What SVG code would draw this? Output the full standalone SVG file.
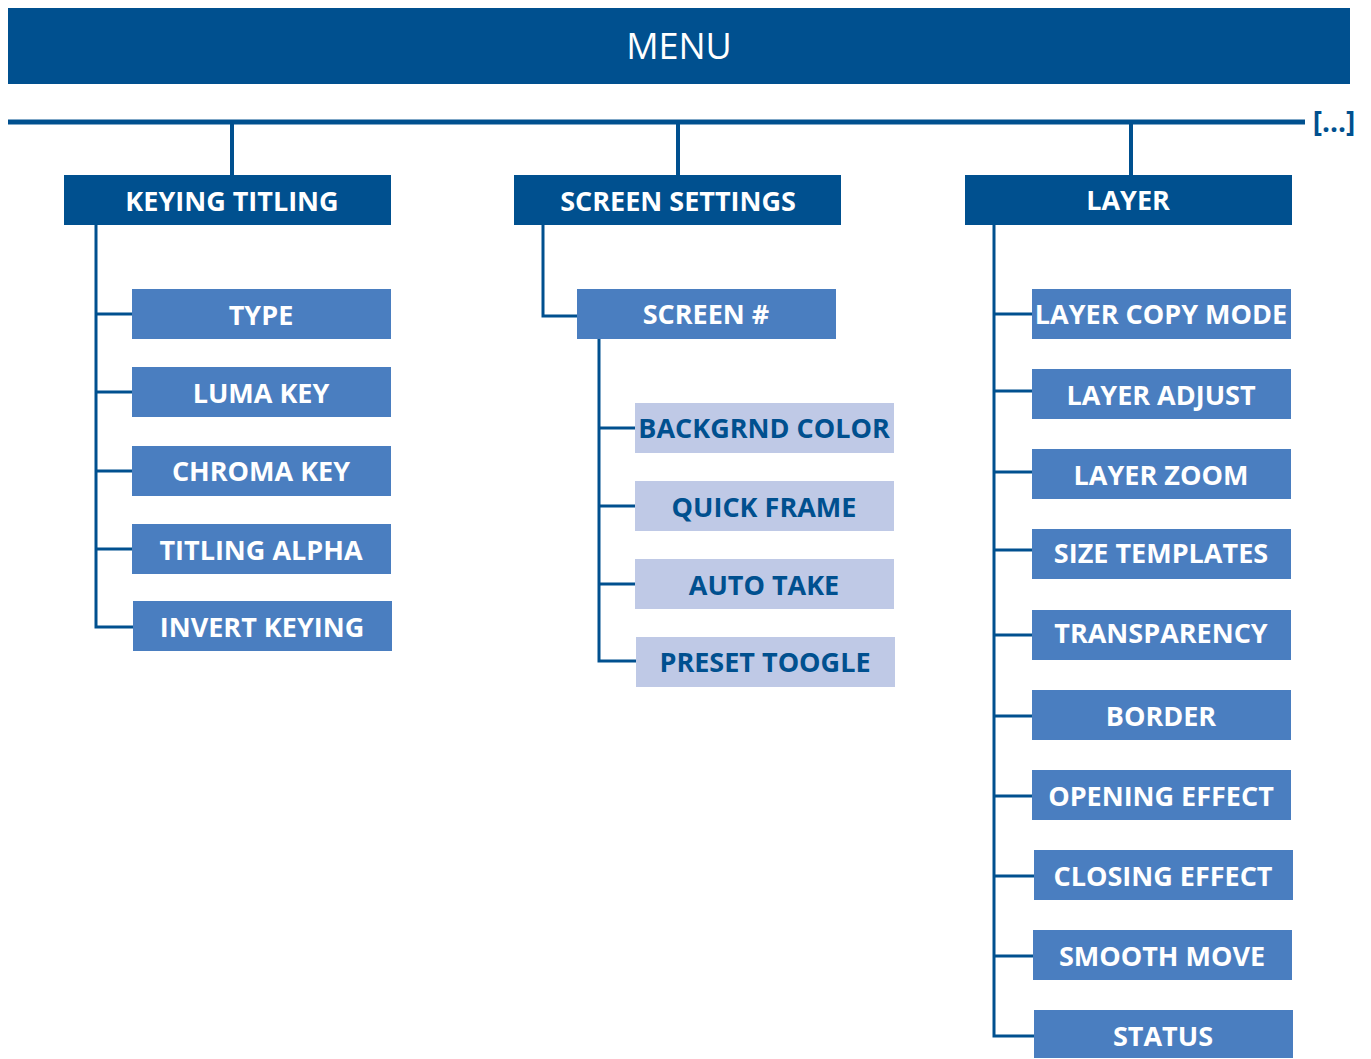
<svg xmlns="http://www.w3.org/2000/svg" width="1371" height="1059" viewBox="0 0 1371 1059">
<style>
.dk{fill:#00508F}
.md{fill:#4A7EC0}
.lt{fill:#BFC9E6}
text{font-family:"Open Sans","Liberation Sans",sans-serif;font-weight:bold;font-size:27px;text-anchor:middle;dominant-baseline:central}
.w{fill:#FFFFFF}
.b{fill:#00508F}
.con{fill:none;stroke:#00508F;stroke-width:3}
</style>
<rect width="1371" height="1059" fill="#FFFFFF"/>
<g id="menu">
<rect class="dk" x="8" y="8" width="1342" height="76"/>
<text class="w" x="679" y="45" style="font-weight:normal;font-size:36px">MENU</text>
</g>
<g id="connectors">
<line x1="8" y1="122" x2="1305" y2="122" stroke="#00508F" stroke-width="5"/>
<line class="con" x1="232" y1="122" x2="232" y2="176" style="stroke-width:4"/>
<line class="con" x1="678" y1="122" x2="678" y2="176" style="stroke-width:4"/>
<line class="con" x1="1131" y1="122" x2="1131" y2="176" style="stroke-width:4"/>
<polyline class="con" points="96,225 96,627 133,627"/>
<line class="con" x1="96" y1="314" x2="132" y2="314"/>
<line class="con" x1="96" y1="392" x2="132" y2="392"/>
<line class="con" x1="96" y1="471" x2="132" y2="471"/>
<line class="con" x1="96" y1="549" x2="132" y2="549"/>
<polyline class="con" points="543,225 543,316 577,316"/>
<polyline class="con" points="599,339 599,661 636,661"/>
<line class="con" x1="599" y1="428" x2="635" y2="428"/>
<line class="con" x1="599" y1="506" x2="635" y2="506"/>
<line class="con" x1="599" y1="584" x2="635" y2="584"/>
<polyline class="con" points="994,225 994,1036 1034,1036"/>
<line class="con" x1="994" y1="314" x2="1032" y2="314"/>
<line class="con" x1="994" y1="391" x2="1032" y2="391"/>
<line class="con" x1="994" y1="472" x2="1032" y2="472"/>
<line class="con" x1="994" y1="550" x2="1032" y2="550"/>
<line class="con" x1="994" y1="635" x2="1032" y2="635"/>
<line class="con" x1="994" y1="716" x2="1032" y2="716"/>
<line class="con" x1="994" y1="796" x2="1032" y2="796"/>
<line class="con" x1="994" y1="876" x2="1034" y2="876"/>
<line class="con" x1="994" y1="956" x2="1033" y2="956"/>
</g>
<text class="b" x="1334" y="121" style="font-size:28px">[...]</text>
<g id="keying-titling"><rect class="dk" x="64" y="175" width="327" height="50"/><text class="w" x="232" y="200">KEYING TITLING</text></g>
<g id="screen-settings"><rect class="dk" x="514" y="175" width="327" height="50"/><text class="w" x="678" y="200">SCREEN SETTINGS</text></g>
<g id="layer"><rect class="dk" x="965" y="175" width="327" height="50"/><text class="w" x="1128" y="199">LAYER</text></g>

<g id="type"><rect class="md" x="132" y="289" width="259" height="50"/><text class="w" x="261" y="314">TYPE</text></g>
<g id="luma-key"><rect class="md" x="132" y="367" width="259" height="50"/><text class="w" x="261" y="392">LUMA KEY</text></g>
<g id="chroma-key"><rect class="md" x="132" y="446" width="259" height="50"/><text class="w" x="261" y="470">CHROMA KEY</text></g>
<g id="titling-alpha"><rect class="md" x="132" y="524" width="259" height="50"/><text class="w" x="261" y="549">TITLING ALPHA</text></g>
<g id="invert-keying"><rect class="md" x="133" y="601" width="259" height="50"/><text class="w" x="262" y="626">INVERT KEYING</text></g>

<g id="screen-num"><rect class="md" x="577" y="289" width="259" height="50"/><text class="w" x="706" y="313">SCREEN #</text></g>
<g id="backgrnd-color"><rect class="lt" x="635" y="403" width="259" height="50"/><text class="b" x="764" y="427">BACKGRND COLOR</text></g>
<g id="quick-frame"><rect class="lt" x="635" y="481" width="259" height="50"/><text class="b" x="764" y="506">QUICK FRAME</text></g>
<g id="auto-take"><rect class="lt" x="635" y="559" width="259" height="50"/><text class="b" x="764" y="584">AUTO TAKE</text></g>
<g id="preset-toogle"><rect class="lt" x="636" y="637" width="259" height="50"/><text class="b" x="765" y="661">PRESET TOOGLE</text></g>

<g id="layer-copy-mode"><rect class="md" x="1032" y="289" width="259" height="50"/><text class="w" x="1161" y="313">LAYER COPY MODE</text></g>
<g id="layer-adjust"><rect class="md" x="1032" y="369" width="259" height="50"/><text class="w" x="1161" y="394">LAYER ADJUST</text></g>
<g id="layer-zoom"><rect class="md" x="1032" y="449" width="259" height="50"/><text class="w" x="1161" y="474">LAYER ZOOM</text></g>
<g id="size-templates"><rect class="md" x="1032" y="529" width="259" height="50"/><text class="w" x="1161" y="552">SIZE TEMPLATES</text></g>
<g id="transparency"><rect class="md" x="1032" y="610" width="259" height="50"/><text class="w" x="1161" y="632">TRANSPARENCY</text></g>
<g id="border"><rect class="md" x="1032" y="690" width="259" height="50"/><text class="w" x="1161" y="715">BORDER</text></g>
<g id="opening-effect"><rect class="md" x="1032" y="770" width="259" height="50"/><text class="w" x="1161" y="795">OPENING EFFECT</text></g>
<g id="closing-effect"><rect class="md" x="1034" y="850" width="259" height="50"/><text class="w" x="1163" y="875">CLOSING EFFECT</text></g>
<g id="smooth-move"><rect class="md" x="1033" y="930" width="259" height="50"/><text class="w" x="1162" y="955">SMOOTH MOVE</text></g>
<g id="status"><rect class="md" x="1034" y="1010" width="259" height="48"/><text class="w" x="1163" y="1035">STATUS</text></g>
</svg>
